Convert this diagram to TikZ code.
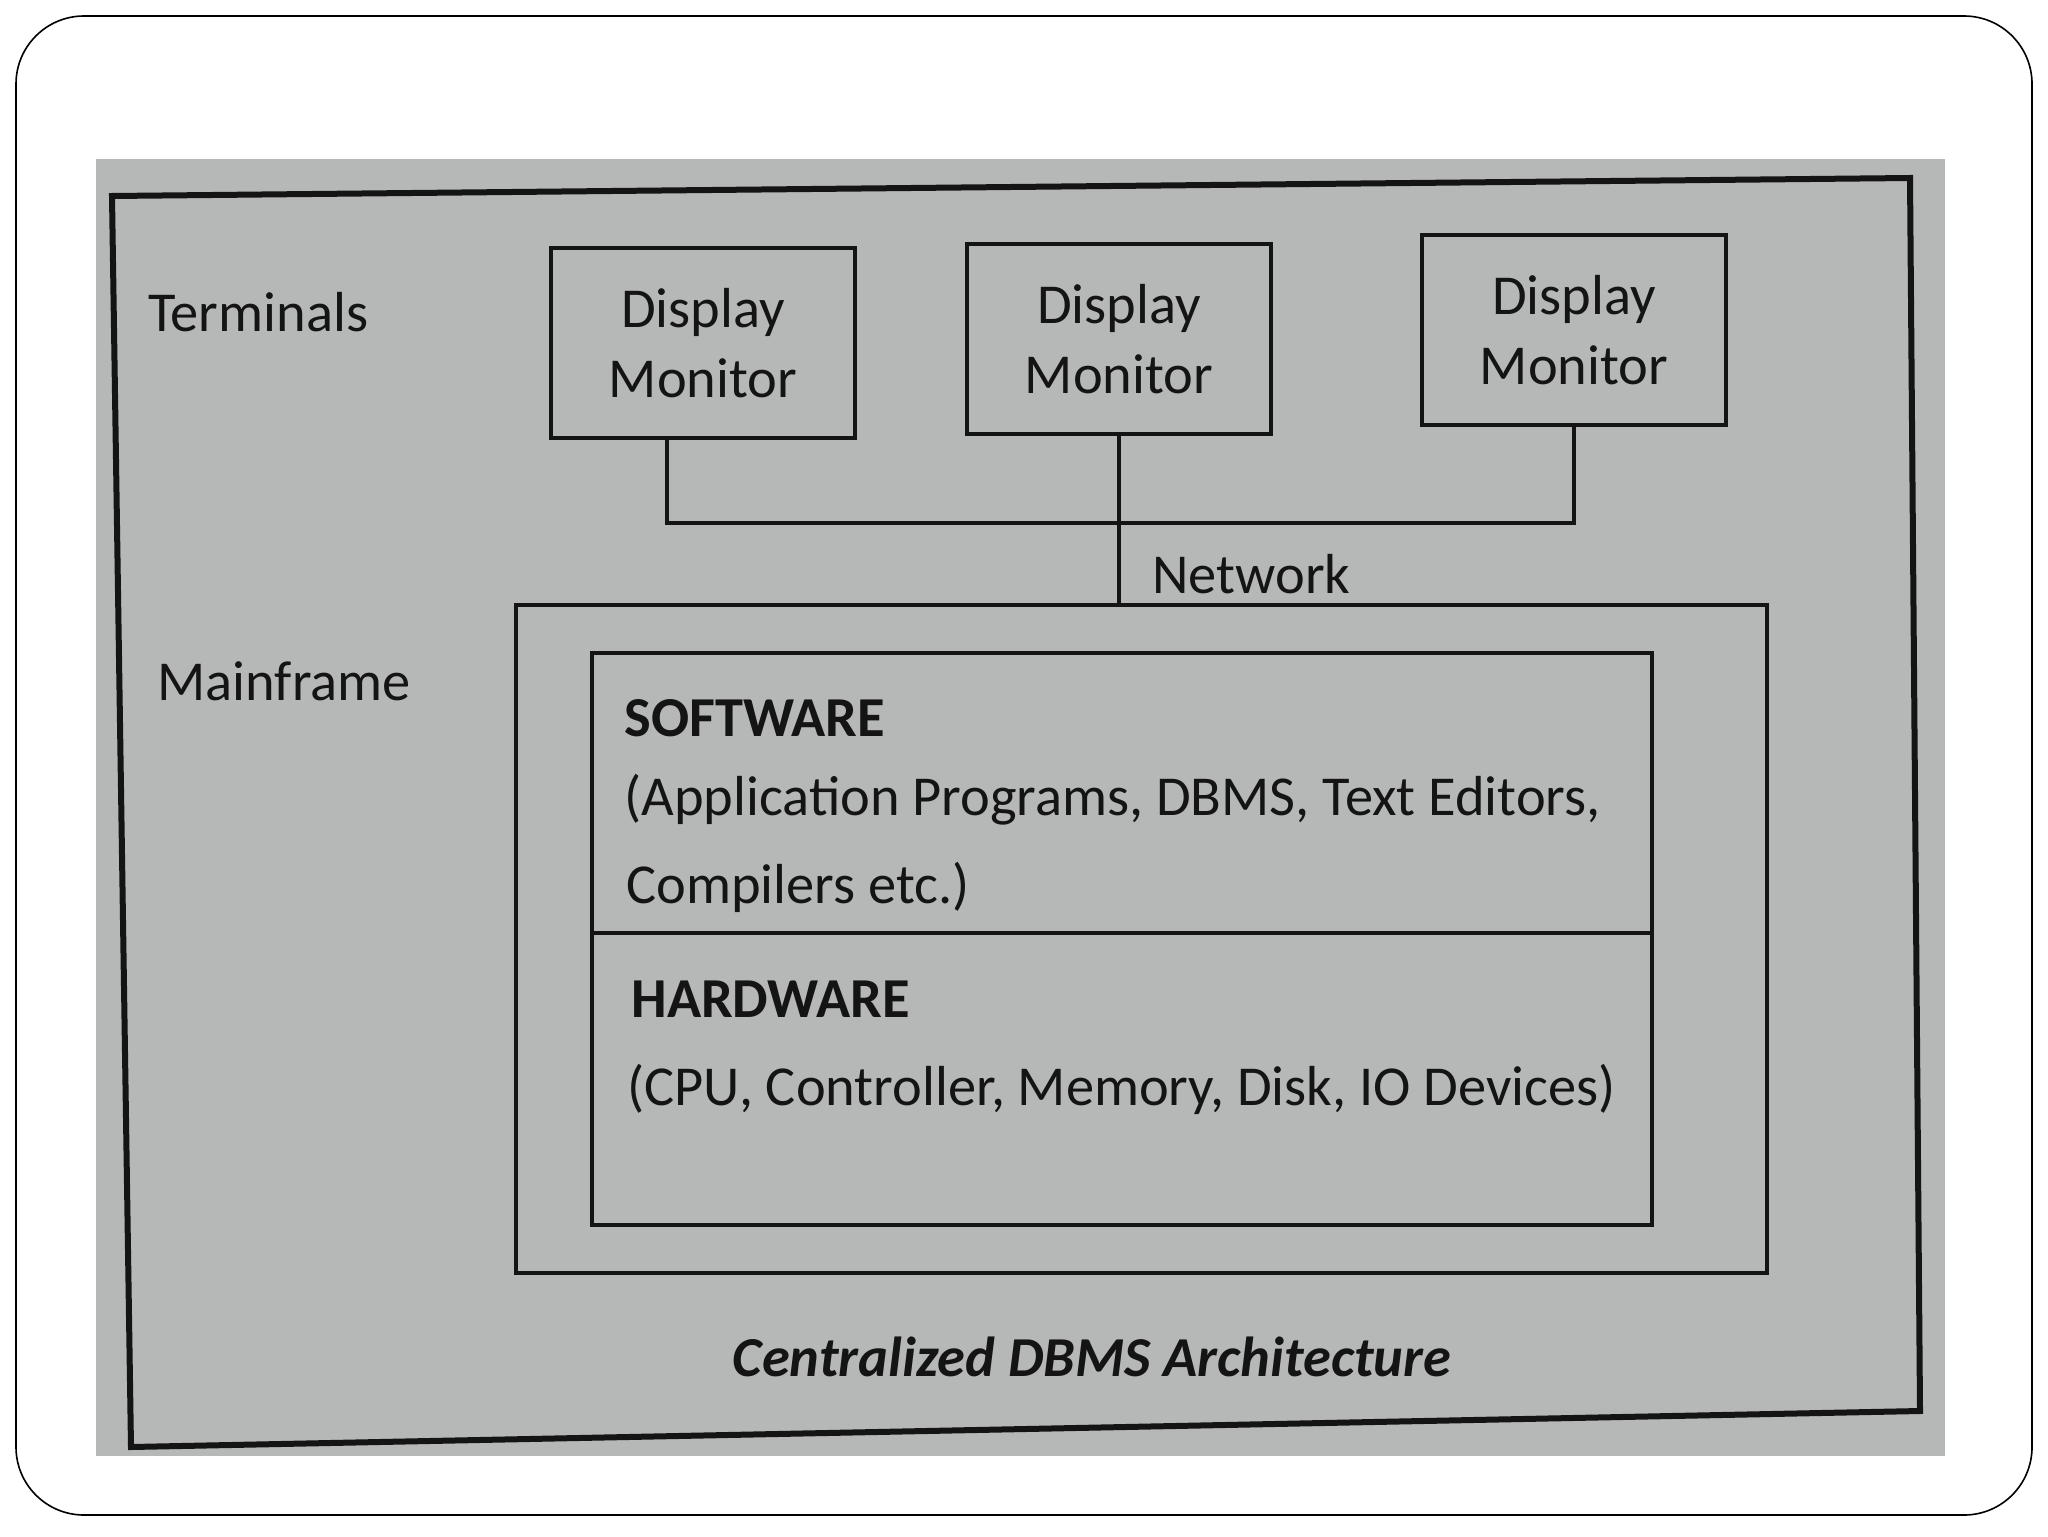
\documentclass[tikz,border=0pt]{standalone}
\usepackage{fontspec}
\setmainfont{Carlito}
\usepackage{tikz}
\usetikzlibrary{positioning}

\definecolor{paper}{RGB}{182,184,183}
\definecolor{ink}{RGB}{20,20,20}
\newcommand{\bodysize}{\fontsize{28.2}{35}\selectfont}

\tikzset{
  monitor/.style={draw=ink, line width=2.2pt, minimum width=152pt, minimum height=95pt,
    align=center, inner sep=0pt, text=ink, font=\bodysize},
  lbl/.style={anchor=base west, inner sep=0pt, text=ink, font=\bodysize},
  wire/.style={draw=ink, line width=1.6pt},
  panel/.style={draw=ink, line width=2.2pt, inner sep=0pt}
}

\begin{document}
\begin{tikzpicture}[x=0.5pt, y=-0.5pt]
  \useasboundingbox (0,0) rectangle (2048,1536);
  \fill[white] (0,0) rectangle (2048,1536);
  \draw[line width=0.8pt, rounded corners=34pt] (16,16) rectangle (2032,1515);
  \fill[paper] (96,159) rectangle (1945,1456);
  \draw[ink, line width=3pt] (112,196) -- (1910,178) -- (1920,1411) -- (131,1447) -- cycle;

  % terminals
  \node[lbl] (term) at (148,331) {Terminals};
  \node[monitor] (m1) at (703,343) {Display\\Monitor};
  \node[monitor] (m2) at (1119,339) {Display\\Monitor};
  \node[monitor] (m3) at (1574,330) {Display\\Monitor};

  % mainframe
  \node[lbl] (mf) at (157,700) {Mainframe};
  \node[panel, minimum width=625.5pt, minimum height=334pt] (main) at (1141.5,939) {};
  \node[panel, minimum width=530pt, minimum height=286pt] (core) at (1122,939) {};
  \draw[panel] (core.west |- 0,933) -- (core.east |- 0,933);

  % network
  \coordinate (bus) at (1119,523);
  \draw[wire] ([xshift=-18pt]m1.south) |- (bus) -| (m3.south);
  \draw[wire] (m2.south) -- (m2.south |- main.north);
  \node[lbl] (net) at (1152,593) {Network};

  \node[lbl, font=\bodysize\bfseries] (sw) at (624,736) {SOFTWARE};
  \node[lbl] (swa) at (624,815) {(Application Programs, DBMS, Text Editors,};
  \node[lbl] (swb) at (626,903) {Compilers etc.)};
  \node[lbl, font=\bodysize\bfseries] (hw) at (631,1017) {HARDWARE};
  \node[lbl] (hwa) at (627,1105) {(CPU, Controller, Memory, Disk, IO Devices)};

  \node[anchor=base, inner sep=0pt, text=ink, font=\bodysize\bfseries\itshape] (cap) at (1092,1376) {Centralized DBMS Architecture};
\end{tikzpicture}
\end{document}
